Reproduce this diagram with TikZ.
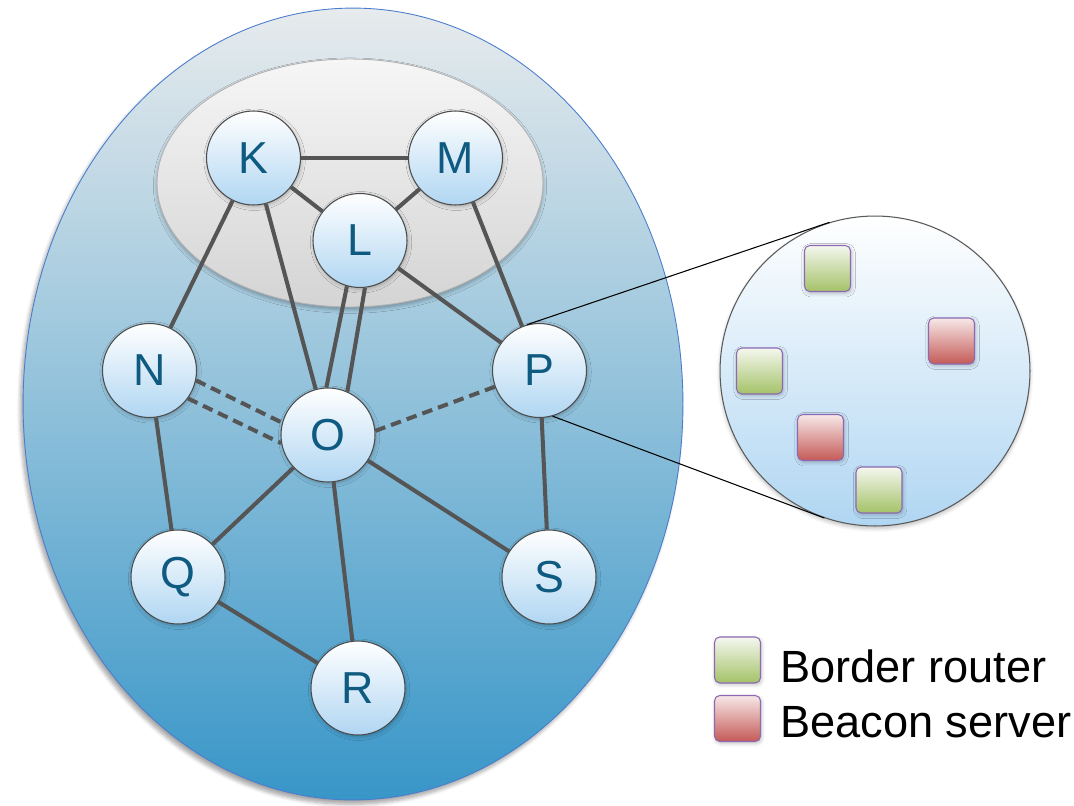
\documentclass[tikz,border=0pt]{standalone}
\usepackage{fontspec}
\setmainfont{Liberation Sans}
\usepackage{tikz}
\usetikzlibrary{shapes.geometric,shadows.blur}
\definecolor{asTop}{RGB}{231,235,237}
\definecolor{asBottom}{RGB}{56,150,200}
\definecolor{asLine}{RGB}{74,125,205}
\definecolor{coreTop}{RGB}{246,246,246}
\definecolor{coreBottom}{RGB}{212,212,212}
\definecolor{routerBlue}{RGB}{176,214,242}
\definecolor{letterBlue}{RGB}{14,90,128}
\definecolor{linkGray}{RGB}{85,85,85}
\definecolor{detailBottom}{RGB}{176,214,242}
\definecolor{brTop}{RGB}{244,247,238}
\definecolor{brBottom}{RGB}{164,194,104}
\definecolor{bsTop}{RGB}{247,232,232}
\definecolor{bsBottom}{RGB}{196,90,86}
\definecolor{boxLine}{RGB}{140,105,178}

\begin{document}
\begin{tikzpicture}[x=0.02cm, y=-0.02cm,
    router/.style={circle, draw=gray!60!black, line width=0.6pt, minimum size=1.88cm, inner sep=0pt,
        top color=white, bottom color=routerBlue, text=letterBlue, font=\fontsize{25.5}{30}\selectfont,
        blur shadow={shadow xshift=0.6pt, shadow yshift=-1pt, shadow blur steps=4, shadow opacity=25}},
    link/.style={line width=2.3pt, draw=linkGray},
    weak/.style={link, dash pattern=on 6pt off 3.5pt},
    zoomline/.style={line width=0.6pt, draw=black},
    box/.style={rectangle, rounded corners=3pt, draw=boxLine, line width=0.6pt, minimum size=0.92cm, inner sep=0pt,
        blur shadow={shadow xshift=0.6pt, shadow yshift=-1pt, shadow blur steps=4, shadow opacity=25}},
    border/.style={box, top color=brTop, bottom color=brBottom},
    beacon/.style={box, top color=bsTop, bottom color=bsBottom},
    keytext/.style={anchor=base west, inner sep=0pt, font=\fontsize{25.7}{30}\selectfont}]
    \useasboundingbox (0,0) rectangle (1074,805);

    % isolation domain and its core
    \node[ellipse, minimum width=13.2cm, minimum height=15.84cm, draw=asLine, line width=0.5pt,
        top color=asTop, bottom color=asBottom,
        blur shadow={shadow xshift=-1.5pt, shadow yshift=-2.5pt, shadow blur steps=6, shadow opacity=35}] (as) at (353,404) {};
    \node[ellipse, minimum width=7.72cm, minimum height=4.96cm, draw=gray!60, line width=0.5pt,
        top color=coreTop, bottom color=coreBottom,
        blur shadow={shadow xshift=0pt, shadow yshift=-1.5pt, shadow blur steps=5, shadow opacity=30}] (core) at (350,183) {};

    % zoomed view of P
    \node[circle, minimum size=6.2cm, draw=gray!70!black, line width=0.6pt, top color=white, bottom color=detailBottom,
        blur shadow={shadow xshift=0pt, shadow yshift=-1.5pt, shadow blur steps=5, shadow opacity=25}] (detail) at (875,371) {};

    % ASes
    \node[router] (K) at (253.5,158) {K};
    \node[router] (M) at (455.5,158) {M};
    \node[router] (L) at (360,240.5) {L};
    \node[router] (N) at (149.5,370.5) {N};
    \node[router] (P) at (539.5,370.5) {P};
    \node[router] (O) at (328,435) {O};
    \node[router] (Q) at (178,577) {Q};
    \node[router] (S) at (549,577) {S};
    \node[router] (R) at (358,688) {R};

    \draw[zoomline] (P.105) -- (detail.107);
    \draw[zoomline] (P.-74) -- (detail.-109);

    % links
    \draw[link] (K) -- (M);
    \draw[link] (K) -- (L);
    \draw[link] (M) -- (L);
    \draw[link] (K) -- (N);
    \draw[link] (K) -- (O);
    \draw[link] (M) -- (P);
    \draw[link] (L) -- (P);
    \draw[link] (L.-106) -- (O.92);
    \draw[link] (L.-84) -- (O.66);
    \draw[weak] (N.-12) -- (O.165);
    \draw[weak] (N.-36) -- (O.190);
    \draw[weak] (O.5) -- (P.200);
    \draw[link] (N) -- (Q);
    \draw[link] (O) -- (Q);
    \draw[link] (O) -- (R);
    \draw[link] (O) -- (S);
    \draw[link] (P) -- (S);
    \draw[link] (Q) -- (R);

    % servers inside P
    \node[border] (br1) at (827.5,268.5) {};
    \node[beacon] (bs1) at (951.5,341) {};
    \node[border] (br2) at (759.5,371) {};
    \node[beacon] (bs2) at (820.5,437.5) {};
    \node[border] (br3) at (879,490) {};

    % legend
    \node[border] (keyBR) at (737.5,660) {};
    \node[beacon] (keyBS) at (737.5,718.5) {};
    \node[keytext] (keyBRtext) at (780,682) {Border router};
    \node[keytext] (keyBStext) at (780,737) {Beacon server};
\end{tikzpicture}
\end{document}
